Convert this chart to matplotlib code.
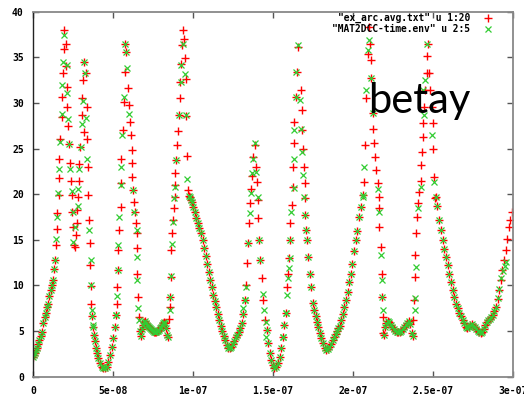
import numpy as np
import matplotlib
matplotlib.use('Agg')
import matplotlib.pyplot as plt

# time in ns, beta in m
# parts where both files lie on the same smooth curve
rise_t = [0, 0.5, 0.9, 1.4, 2.0, 2.8, 3.6, 4.4, 5.1, 6.1, 6.9, 7.8, 8.6, 9.3, 10.0, 10.8, 11.4, 12.0, 12.8, 13.4]
rise_y = [2.2, 2.4, 2.6, 2.9, 3.2, 3.6, 4.0, 4.5, 4.9, 5.9, 6.5, 7.0, 7.6, 8.0, 8.8, 9.5, 10.1, 10.6, 11.8, 12.8]

valley1_t = [36.75, 37.4, 38.0, 38.4, 39.1, 39.7, 40.5, 41.6, 42.6, 43.6, 44.7, 45.75, 46.75, 47.8, 48.9, 49.9, 50.9, 51.6]
valley1_y = [6.6, 5.4, 4.6, 3.9, 3.2, 2.6, 2.0, 1.5, 1.1, 0.95, 0.95, 1.1, 1.6, 2.4, 3.3, 4.2, 5.5, 6.8]

m1_t = [66.6, 67.2, 67.8, 68.4, 69.1, 69.7, 70.3, 70.9, 71.6, 72.2, 72.8, 73.4, 74.1, 74.7, 75.3, 75.9,
        76.6, 77.2, 77.8, 78.4, 79.1, 79.7, 80.3, 80.9, 81.6, 82.2, 82.8, 83.4, 84.1]
m1_y = [5.0, 4.5, 5.2, 5.7, 6.0, 6.1, 5.9, 5.7, 5.6, 5.5, 5.3, 5.2, 5.1, 5.0, 4.9, 4.9,
        4.9, 5.0, 5.0, 5.1, 5.3, 5.5, 5.7, 5.9, 6.0, 5.9, 5.3, 4.6, 4.4]

fall1_t = [97.2, 97.8, 98.4, 99.1, 100.0, 100.9, 101.9, 102.8, 103.75, 104.7, 105.9, 106.9, 107.8, 108.75,
           109.7, 110.6, 111.6, 112.5, 113.4, 114.4, 115.3, 116.25, 117.2, 118.1, 119.1, 120.0, 120.9,
           121.9, 122.8, 123.75, 124.7, 125.6, 126.6, 127.5, 128.4, 129.4, 130.3, 131.25, 132.2]
fall1_y = [19.8, 19.7, 19.4, 19.1, 18.6, 18.0, 17.4, 16.9, 16.3, 15.7, 15.0, 14.1, 13.2, 12.4,
           11.5, 10.6, 9.8, 9.0, 8.3, 7.6, 6.9, 6.2, 5.6, 5.0, 4.5, 4.0, 3.5,
           3.2, 3.1, 3.3, 3.6, 3.9, 4.3, 4.6, 4.9, 5.3, 5.9, 6.9, 8.4]

valley2_t = [145.9, 146.6, 147.8, 148.75, 149.7, 150.6, 151.6, 152.8, 154.1, 155.0, 155.9, 156.9, 157.8]
valley2_y = [5.1, 3.7, 2.6, 1.8, 1.3, 0.95, 1.1, 1.5, 2.2, 3.2, 4.4, 5.7, 7.0]

valley3_t = [170.0, 170.75, 171.1, 171.6, 172.8, 173.9, 174.7, 175.6, 176.6, 177.5, 178.4, 179.4, 180.3,
             181.25, 182.2, 183.25, 184.4, 185.3, 186.25, 187.2, 188.1, 189.1, 190.0, 190.9, 191.9,
             192.8, 193.75, 194.7, 195.75, 196.6, 197.8, 198.9, 199.7, 200.9, 202.0, 202.8, 204.1,
             205.0, 206.1]
valley3_y = [17.7, 16.1, 15.0, 13.1, 11.3, 9.8, 8.1, 7.3, 6.7, 6.0, 5.4, 4.8, 4.2,
             3.7, 3.2, 2.9, 3.0, 3.3, 3.6, 4.0, 4.4, 4.7, 5.0, 5.3, 5.6,
             6.2, 6.9, 7.6, 8.4, 9.3, 10.4, 11.3, 12.4, 13.8, 15.0, 16.0, 17.5,
             18.6, 19.9]

m2_t = [219.7, 220.3, 220.9, 221.9, 222.8, 223.75, 224.7, 225.6, 226.6, 227.5, 228.4, 229.4, 230.3,
        231.25, 232.2, 233.1, 234.1, 235.0, 235.9, 236.9, 237.5]
m2_y = [4.6, 5.5, 5.9, 6.1, 6.0, 5.7, 5.4, 5.2, 5.0, 4.9, 4.9, 4.9, 5.0,
        5.2, 5.4, 5.7, 5.9, 6.1, 5.8, 4.8, 4.5]

fall2_t = [252.0, 252.8, 254.1, 255.1, 256.1, 257.2, 258.25, 259.25, 260.3, 261.4, 262.4, 263.4, 264.5,
           265.5, 266.6, 267.6, 268.6, 269.7, 270.75, 271.6, 272.5, 273.4, 274.4, 275.3, 276.25,
           277.2, 278.1, 279.1, 280.0, 280.9, 281.9, 282.8, 283.75, 284.7, 285.6, 286.6, 287.5,
           288.4, 289.5]
fall2_y = [19.7, 18.7, 17.2, 16.1, 15.0, 14.0, 13.1, 12.2, 11.3, 10.4, 9.5, 8.7, 8.0,
           7.5, 7.0, 6.6, 6.2, 5.9, 5.5, 5.3, 5.5, 5.7, 5.8, 5.6, 5.4,
           5.2, 5.0, 4.9, 4.8, 4.9, 5.2, 5.7, 6.0, 6.2, 6.3, 6.5, 6.8,
           7.2, 7.6]

# ex_arc.avg.txt (red) around the sharp peaks
red_pk_t = [14.1, 14.5, 14.9, 15.9, 15.9, 16.1, 16.6, 17.6, 18.0, 18.6, 19.1, 19.25, 20.1, 20.3, 20.75,
            21.1, 21.75, 22.2, 22.8, 23.25, 23.9, 23.9, 24.9, 25.3, 25.9, 26.4, 27.0, 27.4, 28.0, 28.6,
            28.6, 29.1, 30.1, 30.5, 31.1, 31.6, 32.6, 31.75, 33.25, 33.6, 34.25, 34.25, 34.9, 35.3, 35.5,
            35.75, 36.25,
            52.0, 52.4, 52.6, 53.0, 53.6, 54.5, 54.7, 55.1, 55.75, 56.6, 57.2, 57.2, 57.8, 59.25, 59.9,
            60.3, 60.75, 61.4, 61.4, 61.75, 62.0, 63.0, 63.25, 63.9, 64.5, 64.9, 65.1, 65.5, 66.1,
            84.7, 85.3, 85.5, 85.9, 86.4, 87.0, 87.4, 87.8, 88.4, 88.4, 88.9, 89.5, 90.0, 90.5, 91.1,
            91.6, 92.0, 92.4, 93.1, 93.6, 94.25, 94.7, 95.3, 95.3, 96.1, 96.75,
            133.1, 133.75, 134.1, 134.7, 135.3, 135.9, 136.6, 137.2, 138.4, 139.1, 139.7, 140.3, 140.3,
            140.9, 141.9, 142.8, 143.4, 144.7,
            158.4, 159.1, 159.7, 160.3, 160.9, 161.6, 162.2, 162.5, 162.8, 163.4, 164.1, 164.7, 165.3,
            167.2, 167.8, 168.4, 168.75, 169.1, 169.7, 169.7,
            207.0, 207.8, 208.25, 209.25, 210.3, 210.75, 211.4, 211.6, 212.4, 212.5, 213.4, 214.1,
            214.5, 215.5, 216.1, 216.25, 216.6, 217.6, 218.25, 218.4, 218.6, 219.1,
            237.8, 238.4, 238.75, 239.1, 239.5, 239.9, 240.5, 241.6, 242.6, 242.8, 243.25, 243.6,
            244.1, 244.7, 245.3, 246.1, 246.4, 246.75, 247.8, 248.4, 249.5, 249.9, 250.3, 250.9, 251.6,
            290.5, 291.6, 292.6, 293.6, 294.7, 295.75, 296.75, 297.8, 298.6, 299.5]
red_pk_y = [14.4, 16.2, 17.9, 19.9, 21.8, 23.9, 26.1, 28.5, 30.7, 33.3, 35.9, 38.0, 36.5, 34.0, 31.8,
            29.6, 27.5, 25.5, 23.4, 21.5, 19.9, 18.0, 16.4, 14.4, 14.2, 15.5, 16.8, 18.3, 19.7, 21.5,
            23.3, 25.2, 28.7, 30.5, 32.5, 34.5, 33.3, 26.8, 29.6, 26.1, 23.0, 19.9, 17.2, 14.6, 12.2,
            9.9, 8.0,
            8.0, 9.8, 11.7, 13.9, 16.1, 18.6, 21.2, 23.9, 27.0, 30.1, 33.4, 36.5, 35.6, 31.6, 29.8,
            27.9, 26.5, 24.9, 23.4, 21.9, 20.5, 19.1, 18.0, 16.8, 15.7, 14.1, 11.3, 8.7, 6.5,
            6.3, 7.6, 8.7, 10.9, 13.9, 15.7, 17.2, 18.5, 19.7, 21.0, 22.3, 23.8, 25.4, 26.9, 28.7,
            30.5, 32.3, 34.3, 36.4, 38.0, 37.0, 34.9, 32.6, 28.6, 24.2, 20.5,
            10.0, 12.5, 14.6, 16.8, 19.0, 20.6, 22.0, 24.1, 25.4, 23.0, 21.3, 19.4, 17.4,
            15.0, 12.8, 10.8, 8.4, 6.2,
            9.8, 11.3, 13.0, 15.0, 16.8, 18.8, 20.8, 23.0, 25.6, 27.9, 30.7, 33.4, 36.1,
            31.4, 29.2, 27.0, 25.0, 23.0, 21.2, 19.6,
            21.3, 25.4, 30.5, 35.4, 38.3, 36.5, 34.7, 32.7, 28.9, 27.2, 25.6, 24.1,
            22.6, 21.2, 19.7, 18.5, 16.4, 14.2, 11.3, 8.7, 6.5, 4.8,
            6.2, 8.4, 10.9, 13.3, 15.7, 17.5, 19.0, 20.2, 21.5, 23.2, 24.6, 26.3,
            27.8, 29.6, 31.4, 33.3, 35.2, 36.5, 33.3, 31.4, 29.6, 27.8, 25.0, 21.9, 19.6,
            8.5, 9.5, 10.6, 11.7, 12.8, 13.9, 15.1, 16.4, 17.2, 18.0]

# MAT2DCC-time.env (green) around the sharp peaks
grn_pk_t = [14.1, 14.5, 15.5, 15.9, 16.6, 17.6, 18.0, 18.25, 19.1, 20.75, 21.1, 21.75, 22.2, 22.8,
            23.9, 24.5, 24.9, 25.9, 27.6, 28.0, 28.6, 29.5, 30.1, 30.75, 31.75, 32.2, 32.8, 33.6,
            34.9, 35.75, 35.9, 36.75, 37.4,
            51.4, 52.0, 52.6, 53.0, 53.4, 54.7, 54.7, 55.5, 56.6, 58.25, 57.2, 57.8, 59.9, 62.0,
            63.0, 64.5, 65.1, 65.1, 65.5, 65.9,
            85.3, 85.3, 85.9, 86.6, 87.2, 88.1, 88.4, 89.5, 91.1, 92.2, 92.6, 93.6, 94.7, 95.75, 96.1,
            131.1, 132.2, 132.8, 134.25, 135.3, 135.9, 137.0, 137.4, 138.4, 139.5, 140.5, 141.1,
            142.0, 143.6, 144.25, 145.3, 145.75,
            156.1, 157.8, 158.6, 159.25, 159.7, 160.3, 160.75, 161.4, 162.8, 162.8, 163.4, 164.1,
            164.5, 165.5, 167.0, 167.6, 168.25, 168.6, 169.25,
            206.6, 207.2, 208.25, 209.25, 209.9, 211.4, 212.4, 215.5, 216.1, 217.6, 218.25, 218.4, 218.6,
            239.1, 239.1, 239.7, 240.5, 242.6, 243.6, 244.7, 245.3, 246.1, 249.5, 250.9,
            290.5, 291.6, 292.8, 294.1, 295.0, 295.9]
grn_pk_y = [15.1, 17.5, 20.1, 22.8, 25.7, 28.8, 32.0, 34.5, 37.4, 34.2, 31.1, 28.2, 25.5, 22.8,
            20.4, 18.0, 14.8, 16.4, 18.7, 20.6, 22.8, 25.2, 27.7, 30.2, 34.5, 33.3, 28.3, 23.9,
            16.1, 12.8, 10.0, 7.3, 5.7,
            6.8, 8.9, 11.7, 14.4, 17.5, 21.0, 23.0, 26.5, 30.7, 33.8, 36.5, 35.6, 28.8, 20.5,
            18.0, 16.1, 13.1, 10.6, 7.5, 6.2,
            7.3, 8.7, 11.0, 14.5, 17.0, 19.6, 20.8, 23.8, 28.7, 32.3, 34.2, 36.5, 33.2, 28.7, 21.7,
            7.5, 8.4, 9.8, 14.6, 17.9, 20.1, 22.3, 23.9, 25.6, 22.4, 19.7, 15.0,
            12.8, 9.1, 7.3, 6.0, 4.4,
            4.4, 7.0, 9.0, 10.8, 11.9, 13.0, 15.0, 18.0, 20.7, 23.9, 27.0, 30.7,
            33.4, 36.3, 30.3, 27.2, 24.6, 22.1, 19.7,
            19.7, 23.0, 31.4, 35.8, 36.9, 32.7, 28.9, 20.6, 18.0, 13.3, 10.6, 8.7, 7.3,
            8.6, 7.3, 12.0, 18.5, 20.8, 31.4, 28.7, 32.5, 36.5, 26.5, 21.3,
            8.6, 9.6, 10.8, 11.6, 12.1, 12.6]

smooth_t = rise_t + valley1_t + m1_t + fall1_t + valley2_t + valley3_t + m2_t + fall2_t
smooth_y = rise_y + valley1_y + m1_y + fall1_y + valley2_y + valley3_y + m2_y + fall2_y

t_red = np.array(smooth_t + red_pk_t) * 1e-9
y_red = np.array(smooth_y + red_pk_y)
t_grn = np.array(smooth_t + grn_pk_t) * 1e-9
y_grn = np.array(smooth_y + grn_pk_y)

tick_x = [0, 5e-8, 1e-7, 1.5e-7, 2e-7, 2.5e-7, 3e-7]
tick_xl = ['0', '5e-08', '1e-07', '1.5e-07', '2e-07', '2.5e-07', '3e-07']
tick_y = [0, 5, 10, 15, 20, 25, 30, 35, 40]

mono = {'family': 'DejaVu Sans Mono', 'weight': 'bold', 'size': 7}

fig = plt.figure(figsize=(5.24, 3.96), dpi=100)
ax = fig.add_axes([0.0639, 0.0487, 0.9145, 0.9217])

ax.plot(t_red, y_red, '+', color='#ff0000', ms=5.5, mew=1.0, ls='none',
        label='"ex_arc.avg.txt" u 1:20')
ax.plot(t_grn, y_grn, 'x', color='#33cc33', ms=4.5, mew=0.9, ls='none',
        label='"MAT2DCC-time.env" u 2:5')

ax.set_xlim(0, 3e-7)
ax.set_ylim(0, 40)
ax.set_xticks(tick_x)
ax.set_xticklabels(tick_xl, fontdict=mono)
ax.set_yticks(tick_y)
ax.set_yticklabels([str(v) for v in tick_y], fontdict=mono)
ax.tick_params(direction='in', length=4, width=1, color='#555555',
               top=True, right=True, pad=7)

for s in ['top', 'right', 'bottom']:
    ax.spines[s].set_color('#888888')
    ax.spines[s].set_linewidth(1.3)
ax.spines['left'].set_color('#222222')
ax.spines['left'].set_linewidth(1.0)

ax.legend(loc='upper right', bbox_to_anchor=(493 / 524, 1 - 13 / 396),
          bbox_transform=fig.transFigure, markerfirst=False, frameon=False,
          prop={'family': 'DejaVu Sans Mono', 'weight': 'bold', 'size': 6.9},
          handlelength=1.0, handletextpad=1.4, labelspacing=0.12, borderpad=0,
          borderaxespad=0)

fig.text(368 / 524, 1 - 113 / 396, 'betay', family='Lato', fontsize=30,
         ha='left', va='baseline', color='black')

fig.savefig('out.png', dpi=100)
